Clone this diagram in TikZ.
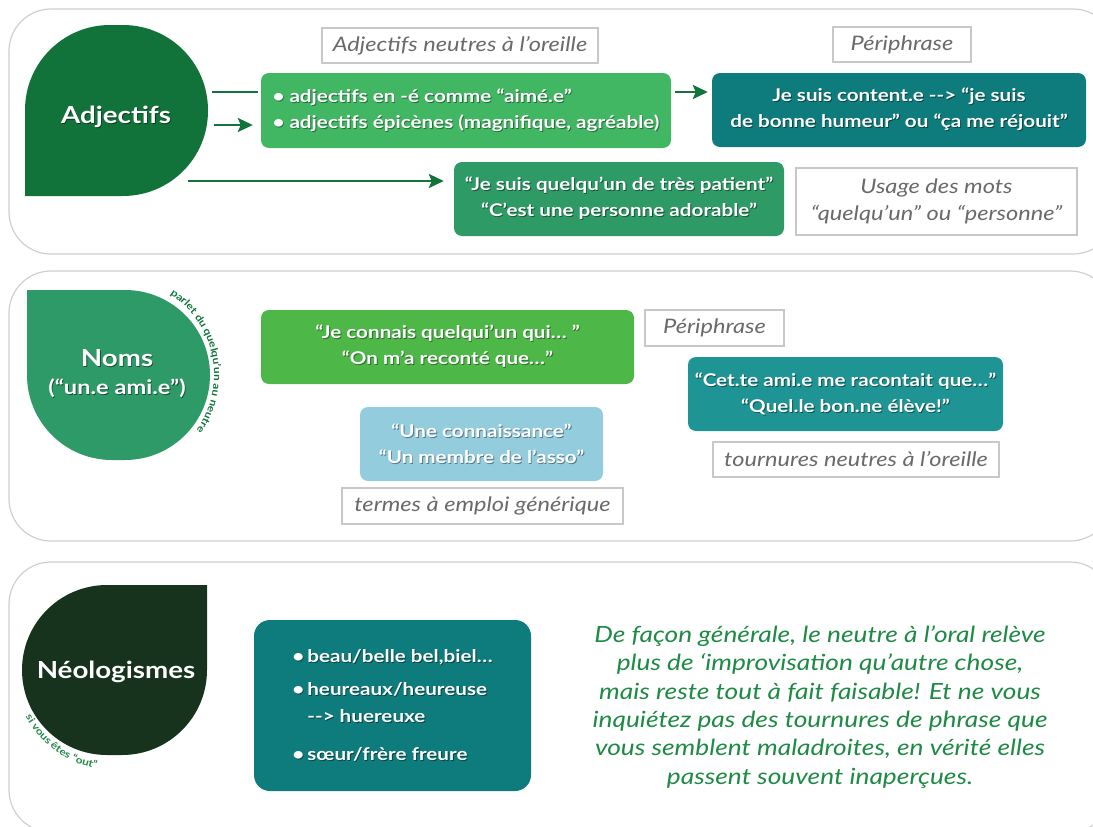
\documentclass[tikz,border=0pt]{standalone}
\usepackage{fontspec}
\setmainfont{Lato}[FakeStretch=1.18]
\usetikzlibrary{arrows.meta,decorations.text}
\definecolor{adjleaf}{HTML}{117339}
\definecolor{nomleaf}{HTML}{2E9A68}
\definecolor{neoleaf}{HTML}{17331D}
\definecolor{lgreen}{HTML}{41B663}
\definecolor{teal1}{HTML}{0E7C7C}
\definecolor{mgreen}{HTML}{2E9A66}
\definecolor{bgreen}{HTML}{4DB748}
\definecolor{lblue}{HTML}{93CCDD}
\definecolor{teal2}{HTML}{1E9594}
\definecolor{arrowgreen}{HTML}{11743B}
\definecolor{lblborder}{HTML}{C8C8C8}
\definecolor{lbltext}{HTML}{6A6A6A}
\definecolor{panelborder}{HTML}{CFCFCF}
\definecolor{paragreen}{HTML}{1E8A45}
% text with a soft dark shadow in the given colour
\newcommand\shd[2]{\makebox[0pt][l]{\hspace{0.9pt}\raisebox{-1pt}{\color{#1}#2}}#2}
\begin{document}
\begin{tikzpicture}[x=1pt,y=-1pt,
 panel/.style={draw=panelborder, line width=1.2pt, rounded corners=42pt},
 box/.style={rounded corners=8pt, minimum height=74pt, inner sep=0pt, text=white, align=center, font=\fontsize{17.5}{26}\selectfont\bfseries},
 lbl/.style={draw=lblborder, line width=2pt, fill=white, inner sep=0pt, minimum height=35pt, text=lbltext, align=center, font=\fontsize{20}{27}\selectfont\itshape},
 leaftext/.style={text=white, font=\fontsize{23.5}{28}\selectfont\bfseries, align=center},
 conn/.style={draw=arrowgreen, line width=2.4pt},
 arr/.style={conn, -{Stealth[length=15pt,width=14pt,inset=3pt]}},
 curvetext/.style={decorate, decoration={text along path, text align=center, text={#1}}},
]
\useasboundingbox (0,0) rectangle (1093,827);
\begin{scope}
\clip (0,0) rectangle (1093,827);
\draw[panel] (9,9) rectangle (1115,254);
\draw[panel] (9,271) rectangle (1112,541);
\draw[panel] (9,562) rectangle (1112,832);
\end{scope}

% leaves
\fill[adjleaf] (25,196) -- (25,110) arc[start angle=180, end angle=270, radius=85]
  -- (123,25) arc[start angle=270, end angle=360, radius=85]
  -- (208,111) arc[start angle=0, end angle=90, radius=85] -- cycle;
\fill[nomleaf] (27,290) -- (125,290) arc[start angle=270, end angle=360, radius=85]
  -- (210,375) arc[start angle=0, end angle=90, radius=85]
  -- (112,460) arc[start angle=90, end angle=180, radius=85] -- cycle;
\fill[neoleaf] (207,585) -- (207,670) arc[start angle=0, end angle=90, radius=85]
  -- (107,755) arc[start angle=90, end angle=180, radius=85]
  -- (22,670) arc[start angle=180, end angle=270, radius=85] -- cycle;

\node[leaftext] (adj) at (116,117) {\shd{adjleaf!50!black}{Adjectifs}};
\node[leaftext] (noms) at (117,374) {\shd{nomleaf!50!black}{Noms}\\{\fontsize{20}{22}\selectfont\shd{nomleaf!50!black}{(“un.e ami.e”)}}};
\node[leaftext] (neo) at (116,672) {Néologismes};

\path[curvetext={|\fontsize{10}{10}\selectfont\bfseries\color{arrowgreen}|parlet du quelqu’un au neutre}]
  (118,375) ++(-64:96) arc[start angle=-64, end angle=42, radius=96];
\path[curvetext={|\fontsize{10}{10}\selectfont\bfseries\color{paragreen}|si vous êtes “out”}]
  (114,670) ++(160:100) arc[start angle=160, end angle=92, radius=100];

% top panel
\node[lbl, minimum width=276pt] (lbl1) at (460,45.5) {Adjectifs neutres à l’oreille};
\node[box, fill=lgreen, minimum width=410pt, minimum height=75pt, align=left] (box1) at (466,110.5)
  {\shd{lgreen!60!black}{• adjectifs en -é comme “aimé.e”}\\\shd{lgreen!60!black}{• adjectifs épicènes (magnifique, agréable)}};
\node[lbl, minimum width=138pt] (peri1) at (902,44.5) {Périphrase};
\node[box, fill=teal1, minimum width=374pt] (box2) at (899,110)
  {\shd{teal1!55!black}{Je suis content.e -{}-> “je suis}\\\shd{teal1!55!black}{de bonne humeur” ou “ça me réjouit”}};
\node[box, fill=mgreen, minimum width=330pt] (box3) at (619,199)
  {\shd{mgreen!55!black}{“Je suis quelqu’un de très patient”}\\\shd{mgreen!55!black}{“C’est une personne adorable”}};
\node[lbl, minimum width=281pt, minimum height=67pt] (lbl2) at (936.5,201.5)
  {Usage des mots\\“quelqu’un” ou “personne”};

\coordinate (a1) at (212,92);
\coordinate (a2) at (214,125);
\coordinate (a3) at (188,181);
\draw[conn] (a1) -- ([xshift=-3pt]box1.west |- a1);
\draw[arr] (a2) -- ([xshift=-8pt]box1.west |- a2);
\draw[arr] ([xshift=4pt]box1.east |- a1) -- ([xshift=-4pt]box2.west |- a1);
\draw[arr] (a3) -- ([xshift=-10pt]box3.west |- a3);

% middle panel
\node[box, fill=bgreen, minimum width=373pt] (box4) at (447.5,347)
  {\shd{bgreen!60!black}{“Je connais quelqui’un qui… ”}\\\shd{bgreen!60!black}{“On m’a reconté que…”}};
\node[box, fill=lblue, minimum width=243pt] (box5) at (481.5,444)
  {\shd{lblue!60!black}{“Une connaissance”}\\\shd{lblue!60!black}{“Un membre de l’asso”}};
\node[lbl, minimum width=281pt, minimum height=36pt] (lbl3) at (482.5,506) {termes à emploi générique};
\node[lbl, minimum width=139pt, minimum height=36pt] (peri2) at (714.5,328) {Périphrase};
\node[box, fill=teal2, minimum width=315pt] (box6) at (845.5,394)
  {\shd{teal2!55!black}{“Cet.te ami.e me racontait que…”}\\\shd{teal2!55!black}{“Quel.le bon.ne élève!”}};
\node[lbl, minimum width=286pt] (lbl4) at (856,459.5) {tournures neutres à l’oreille};

% bottom panel
\node[box, rounded corners=16pt, fill=teal1, minimum width=277pt, minimum height=171pt, align=left, font=\fontsize{17.5}{27}\selectfont\bfseries] (box7) at (392.5,705.5)
  {\shd{teal1!55!black}{\makebox[15pt][l]{•}beau/belle bel,biel…}\\[6pt]
   \shd{teal1!55!black}{\makebox[15pt][l]{•}heureaux/heureuse}\\
   \shd{teal1!55!black}{\hspace*{15pt}-{}-> huereuxe}\\[11pt]
   \shd{teal1!55!black}{\makebox[15pt][l]{•}sœur/frère freure}};
\node[text=paragreen, font=\fontsize{22.3}{28.4}\selectfont\itshape, align=center] (para) at (820,707)
  {De façon générale, le neutre à l’oral relève\\
   plus de ‘improvisation qu’autre chose,\\
   mais reste tout à fait faisable! Et ne vous\\
   inquiétez pas des tournures de phrase que\\
   vous semblent maladroites, en vérité elles\\
   passent souvent inaperçues.};
\end{tikzpicture}
\end{document}
